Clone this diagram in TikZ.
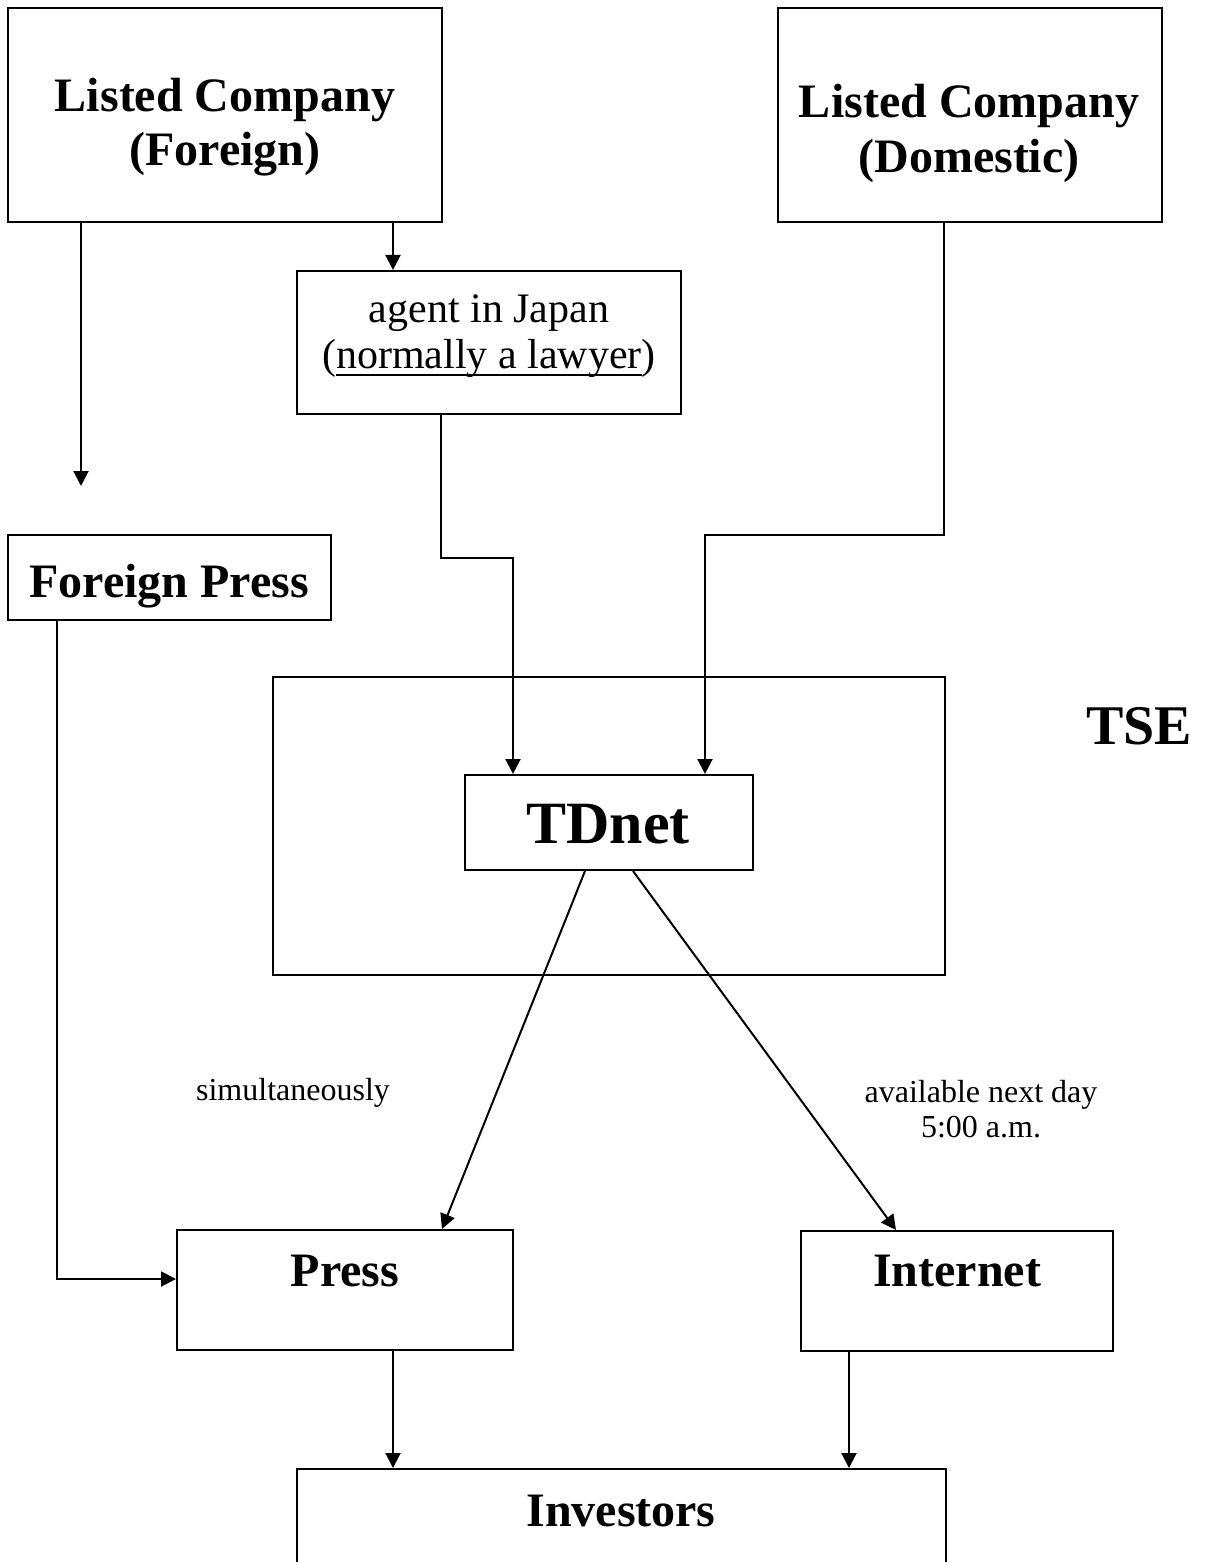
\documentclass[tikz,border=0pt]{standalone}
\usepackage{fontspec}
\setmainfont{Liberation Serif}
\usetikzlibrary{arrows.meta,fit}
\newcommand\myul[1]{\setbox0\hbox{#1}\rlap{\rule[-4pt]{\wd0}{1pt}}\box0}
\begin{document}
\begin{tikzpicture}[x=0.5pt,y=-0.5pt,
  box/.style={draw, rectangle, line width=1pt, inner sep=0pt},
  arr/.style={-{Triangle[length=7.5pt,width=7.5pt]}, line width=1pt},
  big/.style={font=\fontsize{24}{28}\selectfont\bfseries, inner sep=0pt, anchor=base},
  huge/.style={font=\fontsize{28}{32}\selectfont\bfseries, inner sep=0pt, anchor=base},
  tdn/.style={font=\fontsize{30}{34}\selectfont\bfseries, inner sep=0pt, anchor=base},
  mid/.style={font=\fontsize{21}{24}\selectfont, inner sep=0pt, anchor=base},
  small/.style={font=\fontsize{16}{19}\selectfont, inner sep=0pt, anchor=base}]
\useasboundingbox[fill=white] (0,0) rectangle (1204,1562);
\clip (0,0) rectangle (1204,1562);
% boxes
\node[box, fit={(8,8) (442,222)}] (lcf) {};
\node[box, fit={(778,8) (1162,222)}] (lcd) {};
\node[box, fit={(297,271) (681,414)}] (agent) {};
\node[box, fit={(8,535) (331,620)}] (fp) {};
\node[box, fit={(273,677) (945,975)}] (tse) {};
\node[box, fit={(465,775) (753,870)}] (tdnet) {};
\node[box, fit={(177,1230) (513,1350)}] (press) {};
\node[box, fit={(801,1231) (1113,1351)}] (internet) {};
\node[box, fit={(297,1469) (946,1640)}] (investors) {};
% texts
\node[big] (t1a) at (225,112) {Listed Company};
\node[big] (t1b) at (225,166) {(Foreign)};
\node[big] (t2a) at (969,118) {Listed Company};
\node[big] (t2b) at (969,173) {(Domestic)};
\node[mid] (t3a) at (489,322) {agent in Japan};
\node[mid] (t3b) at (489,368) {(\myul{normally a lawyer})};
\node[big] (t4) at (169,597) {Foreign Press};
\node[huge] (t5) at (1139,744) {TSE};
\node[tdn] (t6) at (608,843) {TDnet};
\node[big] (t7) at (345,1286) {Press};
\node[big] (t8) at (957,1286) {Internet};
\node[big] (t9) at (621,1526) {Investors};
\node[small] (l1) at (293,1100) {simultaneously};
\node[small] (l2) at (981,1102) {available next day};
\node[small] (l3) at (981,1137) {5:00 a.m.};
% helper coordinates
\coordinate (fpend) at (81,486);
\coordinate (xB) at (393,0);
\coordinate (xC) at (441,558);
\coordinate (xD) at (513,558);
\coordinate (xE) at (944,535);
\coordinate (xF) at (705,535);
\coordinate (xG) at (57,1279);
\coordinate (xH) at (585,0);
\coordinate (xI) at (442,0);
\coordinate (xJ) at (633,0);
\coordinate (xK) at (896,0);
\coordinate (xL) at (393,0);
\coordinate (xM) at (849,0);
% connectors
\draw[arr] (lcf.south -| fpend) -- (fpend);
\draw[arr] (lcf.south -| xB) -- (agent.north -| xB);
\draw[arr] (agent.south -| xC) -- (xC) -- (xD) -- (tdnet.north -| xD);
\draw[arr] (lcd.south -| xE) -- (xE) -- (xF) -- (tdnet.north -| xF);
\draw[arr] (fp.south -| xG) -- (xG) -- (press.west |- xG);
\draw[arr] (tdnet.south -| xH) -- (press.north -| xI);
\draw[arr] (tdnet.south -| xJ) -- (internet.north -| xK);
\draw[arr] (press.south -| xL) -- (investors.north -| xL);
\draw[arr] (internet.south -| xM) -- (investors.north -| xM);
\end{tikzpicture}
\end{document}
